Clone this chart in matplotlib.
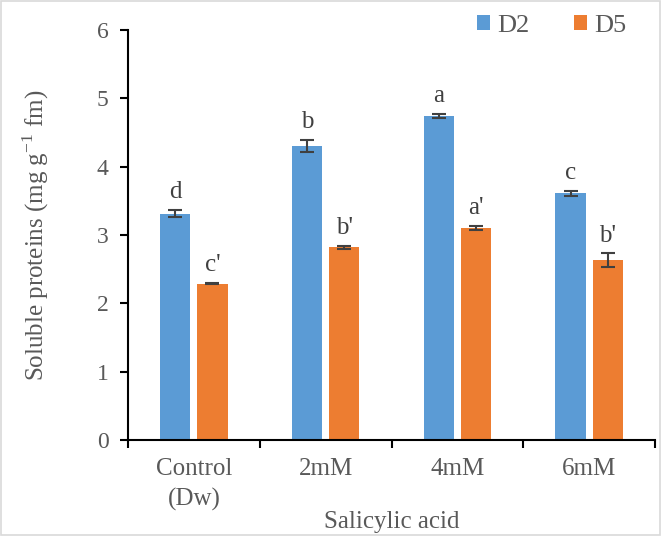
import numpy as np
import matplotlib
matplotlib.use('Agg')
import matplotlib.pyplot as plt
from matplotlib.patches import Rectangle

categories = ["Control\n(Dw)", "2mM", "4mM", "6mM"]
d2_vals = [3.31, 4.30, 4.74, 3.61]
d2_err = [0.05, 0.09, 0.03, 0.04]
d5_vals = [2.29, 2.82, 3.10, 2.63]
d5_err = [0.01, 0.02, 0.03, 0.10]
d2_letters = ["d", "b", "a", "c"]
d5_letters = ["c'", "b'", "a'", "b'"]

blue = "#5B9BD5"
orange = "#ED7D31"
grey = "#595959"

plt.rcParams['font.family'] = ['Liberation Serif', 'DejaVu Serif']
plt.rcParams['mathtext.fontset'] = 'custom'
plt.rcParams['mathtext.rm'] = 'Liberation Serif'

fig = plt.figure(figsize=(6.61, 5.36), dpi=100)
ax = fig.add_axes([128/661, 1-440/536, 527/661, 410/536])

x = np.arange(len(categories))
off = 0.141
w = 0.229
ax.bar(x - off, d2_vals, w, color=blue, label="D2", zorder=2)
ax.bar(x + off, d5_vals, w, color=orange, label="D5", zorder=2)
ax.errorbar(x - off, d2_vals, yerr=d2_err, fmt='none', ecolor="#404040",
            elinewidth=1.5, capsize=5, capthick=1.5, zorder=3)
ax.errorbar(x + off, d5_vals, yerr=d5_err, fmt='none', ecolor="#404040",
            elinewidth=1.5, capsize=5, capthick=1.5, zorder=3)

# significance letters
for i in range(len(categories)):
    ax.annotate(d2_letters[i], (x[i] - off, d2_vals[i] + d2_err[i]),
                xytext=(0, 5), textcoords='offset points', ha='center',
                va='bottom', fontsize=18, color="#404040")
    ax.annotate(d5_letters[i], (x[i] + off, d5_vals[i] + d5_err[i]),
                xytext=(0, 5), textcoords='offset points', ha='center',
                va='bottom', fontsize=18, color="#404040")

ax.set_xlim(-0.5, 3.5)
ax.set_ylim(0, 6)
ax.set_yticks(range(0, 7))
ax.set_xticks(x)
ax.set_xticklabels(categories, fontsize=18, color=grey, linespacing=1.45)
ax.set_xticks(np.arange(-0.5, 4.0, 1.0), minor=True)
ax.tick_params(axis='x', which='major', length=0, pad=13)
ax.tick_params(axis='x', which='minor', length=6, width=1.5, direction='out')
ax.tick_params(axis='y', length=6, width=1.5, direction='out', labelsize=17,
               labelcolor=grey, pad=8)

for s in ['top', 'right']:
    ax.spines[s].set_visible(False)
for s in ['left', 'bottom']:
    ax.spines[s].set_linewidth(1.5)

ax.set_ylabel(r"Soluble proteins (mg g$^{\mathregular{-1}}$ fm)", fontsize=18,
              color=grey, labelpad=33)
ax.set_xlabel("Salicylic acid", fontsize=18, color=grey, labelpad=0)

ax.legend(loc='upper right', bbox_to_anchor=(0.99, 1.095), ncol=2, frameon=False,
          fontsize=19, handlelength=0.5, handleheight=0.5, handletextpad=0.25,
          columnspacing=1.7, labelcolor=grey)

fig.patches.append(Rectangle((0.002, 0.002), 0.996, 0.996, transform=fig.transFigure,
                             fill=False, edgecolor="#D9D9D9", linewidth=1.2))

plt.savefig("out.png", dpi=100)
plt.close()
